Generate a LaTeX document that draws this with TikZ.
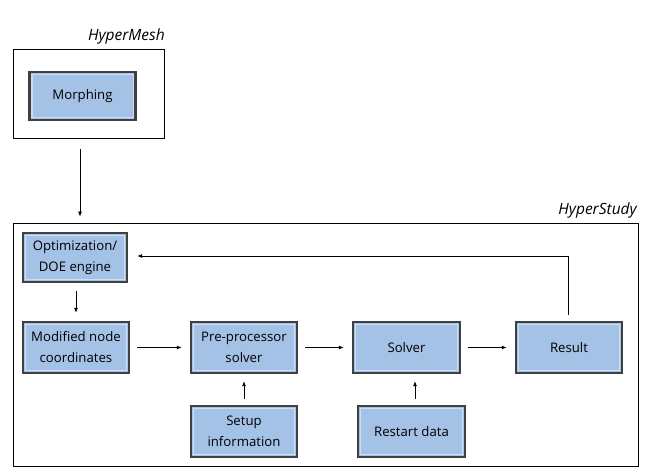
\documentclass[tikz,border=0pt]{standalone}
\usepackage{fontspec}
\setmainfont{Open Sans}
\usetikzlibrary{arrows.meta}
\definecolor{boxfill}{RGB}{164,194,230}
\definecolor{boxedge}{RGB}{64,64,64}
\definecolor{boxrim}{RGB}{205,222,244}
\tikzset{
  procbox/.style={rectangle, fill=boxfill, draw=boxedge, line width=2.4pt,
    minimum width=#1, minimum height=49pt, inner sep=0pt, align=center,
    font=\fontsize{13.2pt}{21pt}\selectfont,
    path picture={\draw[boxrim, line width=1.2pt]
      ([shift={(2.4pt,-2.4pt)}]path picture bounding box.north west) rectangle
      ([shift={(-2.4pt,2.4pt)}]path picture bounding box.south east);}},
  procbox/.default=104pt,
  frame/.style={draw=black, line width=0.8pt, inner sep=0pt},
  conn/.style={-{Latex[length=5pt,width=4pt]}, line width=0.8pt},
  tag/.style={font=\itshape\fontsize{15.5pt}{18pt}\selectfont, inner sep=0pt}
}
\begin{document}
\begin{tikzpicture}[x=1pt,y=-1pt]
\useasboundingbox (0,0) rectangle (654,473);
% containers
\node[frame, minimum width=151pt, minimum height=89pt] (hm) at (88.5,93.5) {};
\node[tag, anchor=south east] (hmlabel) at (165,44) {HyperMesh};
\node[frame, minimum width=625pt, minimum height=243pt] (hs) at (325.5,344.5) {};
\node[tag, anchor=south east] (hslabel) at (637,218) {HyperStudy};
% process boxes
\node[procbox=106pt, minimum height=48pt] (morph) at (82.5,96) {Morphing};
\node[procbox=104pt] (opt) at (75,257.5) {Optimization/\\DOE engine};
\node[procbox=106pt, minimum height=51pt] (mod) at (76,347.5) {Modified node\\coordinates};
\node[procbox=106pt, minimum height=51pt] (pre) at (244,347.5) {Pre-processor\\solver};
\node[procbox=107pt, minimum height=51pt] (solv) at (406.5,347.5) {Solver};
\node[procbox=106pt, minimum height=51pt] (res) at (569,347.5) {Result};
\node[procbox=106pt, minimum height=51pt] (setup) at (244,431.5) {Setup\\information};
\node[procbox=107pt, minimum height=51pt] (rest) at (411.5,431.5) {Restart data};
% connectors
\draw[conn, shorten <=11pt, shorten >=6pt] (hm.south -| 80,0) -- (hs.north -| 80,0);
\draw[conn, shorten <=8pt, shorten >=8pt] (opt.south -| 76,0) -- (mod.north -| 76,0);
\draw[conn, shorten <=7pt, shorten >=8pt] (mod) -- (pre);
\draw[conn, shorten <=7pt, shorten >=8pt] (pre) -- (solv);
\draw[conn, shorten <=7pt, shorten >=8pt] (solv) -- (res);
\draw[conn, shorten <=6pt, shorten >=7pt] (setup) -- (pre);
\draw[conn, shorten <=6pt, shorten >=7pt] (rest.north -| 415,0) -- (solv.south -| 415,0);
\draw[conn, shorten <=6pt, shorten >=9pt] (res.north -| 568,0) |- (opt.east |- 0,256);
\end{tikzpicture}
\end{document}
